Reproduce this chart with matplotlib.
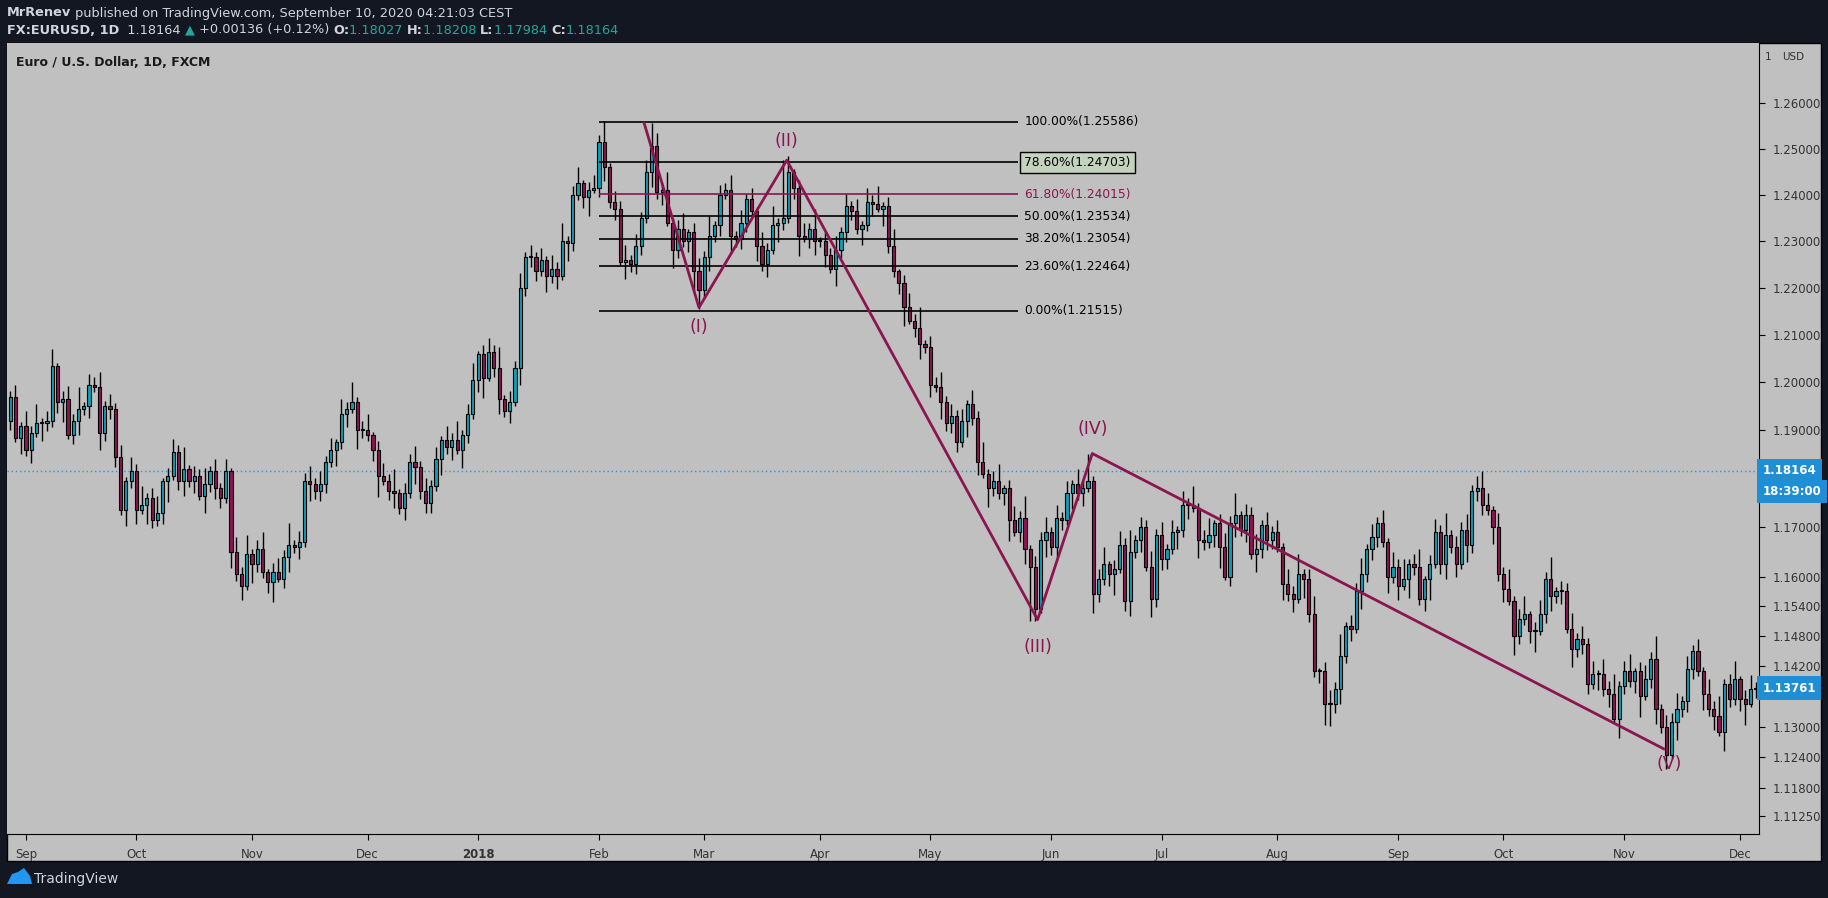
import numpy as np
import pandas as pd
import matplotlib
matplotlib.use("Agg")
import matplotlib.pyplot as plt
from matplotlib.patches import Rectangle, Polygon
from matplotlib.ticker import FixedLocator, FuncFormatter, NullLocator

# ---------------- data ----------------
first_open = 1.1920
closes = [
 1.1970,1.1885,1.1910,
 1.1860,1.1895,1.1915,1.1915,1.1920,1.2035,1.1960,1.1965,1.1890,1.1920,1.1945,1.1950,1.1995,1.1990,1.1895,1.1950,1.1945,1.1845,1.1735,1.1795,1.1815,
 1.1735,1.1745,1.1760,1.1715,1.1730,1.1795,1.1805,1.1855,1.1795,1.1820,1.1795,1.1805,1.1765,1.1790,1.1815,1.1780,1.1760,1.1815,1.1650,1.1605,1.1580,1.1645,
 1.1625,1.1655,1.1610,1.1590,1.1610,1.1595,1.1640,1.1665,1.1660,1.1670,1.1795,1.1790,1.1775,1.1790,1.1835,1.1860,1.1875,1.1935,1.1945,1.1960,1.1900,1.1900,
 1.1890,1.1860,1.1805,1.1795,1.1775,1.1770,1.1740,1.1770,1.1835,1.1825,1.1775,1.1750,1.1785,1.1840,1.1880,1.1865,1.1880,1.1860,1.1890,1.1935,1.2005,
 1.2060,1.2010,1.2065,1.2030,1.1965,1.1940,1.1960,1.2030,1.2200,1.2265,1.2265,1.2235,1.2260,1.2225,1.2240,1.2225,1.2300,1.2295,1.2400,1.2425,1.2395,1.2410,1.2415,
 1.2515,1.2460,1.2385,1.2370,1.2255,1.2260,1.2250,1.2290,1.2350,1.2450,1.2505,1.2405,1.2410,1.2340,1.2280,1.2325,1.2300,1.2320,1.2235,1.2195,
 1.2265,1.2310,1.2335,1.2400,1.2410,1.2310,1.2305,1.2340,1.2390,1.2365,1.2290,1.2250,1.2280,1.2335,1.2340,1.2350,1.2450,1.2415,1.2310,1.2305,1.2325,1.2300,
 1.2300,1.2270,1.2240,1.2280,1.2320,1.2375,1.2365,1.2325,1.2335,1.2385,1.2380,1.2370,1.2375,1.2290,1.2235,1.2210,1.2160,1.2130,1.2115,1.2080,1.2075,
 1.1995,1.1990,1.1960,1.1915,1.1930,1.1875,1.1920,1.1955,1.1925,1.1835,1.1810,1.1780,1.1795,1.1770,1.1780,1.1715,1.1690,1.1720,1.1655,1.1620,1.1535,1.1675,1.1690,
 1.1660,1.1720,1.1715,1.1770,1.1790,1.1770,1.1780,1.1795,1.1565,1.1595,1.1625,1.1605,1.1615,1.1665,1.1550,1.1650,1.1675,1.1700,1.1620,1.1555,1.1685,
 1.1635,1.1655,1.1690,1.1695,1.1745,1.1745,1.1740,1.1675,1.1670,1.1685,1.1710,1.1660,1.1600,1.1710,1.1725,1.1695,1.1725,1.1645,1.1655,1.1705,1.1675,1.1690,
 1.1660,1.1585,1.1565,1.1555,1.1605,1.1595,1.1525,1.1410,1.1410,1.1345,1.1345,1.1375,1.1440,1.1500,1.1495,1.1570,1.1605,1.1655,1.1680,1.1710,1.1670,1.1600,1.1620,
 1.1580,1.1595,1.1625,1.1620,1.1555,1.1595,1.1625,1.1690,1.1625,1.1685,1.1660,1.1625,1.1695,1.1665,1.1775,1.1780,1.1745,1.1735,1.1700,1.1605,
 1.1575,1.1550,1.1480,1.1515,1.1525,1.1490,1.1490,1.1525,1.1595,1.1560,1.1570,1.1570,1.1495,1.1455,1.1475,1.1465,1.1385,1.1405,1.1405,1.1375,1.1365,1.1315,1.1380,
 1.1410,1.1390,1.1410,1.1360,1.1395,1.1435,1.1335,1.1300,1.1245,1.1310,1.1335,1.1350,1.1415,1.1450,1.1410,1.1365,1.1335,1.1320,1.1290,1.1385,1.1355,1.1395,
 1.1355,1.1345,1.1375,1.1375,1.1376,
]
upper_wick_pips = [12, 25, 8, 30, 15, 40, 10, 20, 35, 6, 18, 28, 14, 45, 9, 22, 16, 32, 11, 26]
lower_wick_pips = [20, 10, 33, 14, 27, 8, 38, 16, 12, 24, 42, 7, 19, 30, 13, 25, 9, 36, 17, 21]
extreme_highs = {122: 1.2556, 147: 1.2476, 205: 1.1852, 280: 1.1815}
extreme_lows = {131: 1.2155, 194: 1.1510, 251: 1.1301, 315: 1.1216}

month_labels = ["Sep", "Oct", "Nov", "Dec", "2018", "Feb", "Mar", "Apr", "May", "Jun",
                "Jul", "Aug", "Sep", "Oct", "Nov", "Dec"]
fib_pct = ["100.00%", "78.60%", "61.80%", "50.00%", "38.20%", "23.60%", "0.00%"]
fib_levels = [1.25586, 1.24703, 1.24015, 1.23534, 1.23054, 1.22464, 1.21515]
wave_idx = [120.5, 131.0, 147.7, 195.4, 205.8, 314.7]
wave_price = [1.2559, 1.2158, 1.2475, 1.1513, 1.1852, 1.1255]
wave_names = ["(I)", "(II)", "(III)", "(IV)", "(V)"]
price_ticks = [1.26, 1.25, 1.24, 1.23, 1.22, 1.21, 1.20, 1.19, 1.17, 1.16, 1.154, 1.148,
               1.142, 1.13, 1.124, 1.118, 1.1125]
last_price = 1.18164
last_close_badge = 1.13761

# ---------------- build OHLC ----------------
dates = pd.bdate_range("2017-08-29", periods=len(closes))
n = len(closes)
opens = [first_open] + closes[:-1]
highs, lows = [], []
for i in range(n):
    o, c = opens[i], closes[i]
    h = max(o, c) + upper_wick_pips[i % len(upper_wick_pips)] * 1e-4
    l = min(o, c) - lower_wick_pips[i % len(lower_wick_pips)] * 1e-4
    h = max(h, extreme_highs.get(i, h))
    l = min(l, extreme_lows.get(i, l))
    highs.append(h); lows.append(l)

month_pos = []
prev = None
for i, d in enumerate(dates):
    if d.month != prev:
        if d.day <= 5:
            month_pos.append(i)
        prev = d.month
month_pos = month_pos[:len(month_labels)]

# ---------------- figure ----------------
W, H = 1828, 898
fig = plt.figure(figsize=(W / 100, H / 100), dpi=100)
fig.patch.set_facecolor("#131722")

def fx(px): return px / W
def fy(py): return 1 - py / H

bgbox = Rectangle((fx(7), fy(861)), fx(1821 - 7), (861 - 43) / H,
                  transform=fig.transFigure, facecolor="#c0c0c0",
                  edgecolor="#000000", lw=1.0, zorder=-5)
fig.patches.append(bgbox)

ax = fig.add_axes([fx(7), fy(834), fx(1759 - 7), (834 - 43) / H])
ax.set_zorder(2)
ax.set_facecolor("#c0c0c0")
ax.set_yscale("log")
ax.set_ylim(1.1090, 1.2733)
ax.set_xlim(-0.6, 332.6)

up_c, dn_c = "#0a9fb5", "#8c1550"
bw = 0.6
for i in range(n):
    o, c, h, l = opens[i], closes[i], highs[i], lows[i]
    ax.vlines(i, l, h, color="black", lw=1.0, zorder=2)
    col = up_c if c >= o else dn_c
    bot, top = min(o, c), max(o, c)
    if top - bot < 0.0002:
        top = bot + 0.0002
    ax.add_patch(Rectangle((i - bw / 2, bot), bw, top - bot, facecolor=col,
                           edgecolor="black", lw=0.8, zorder=3))

# fib levels
fib_x0, fib_x1 = 112, 191.7
for p, lv in zip(fib_pct, fib_levels):
    col = "#8c1550" if p == "61.80%" else "black"
    ax.hlines(lv, fib_x0, fib_x1, color=col, lw=1.2, zorder=4)
    kw = dict(fontsize=8.8, color=col, va="center", ha="left", zorder=6)
    if p == "78.60%":
        kw["bbox"] = dict(boxstyle="square,pad=0.35", facecolor="#c3d3bd", edgecolor="black", lw=1)
    ax.text(fib_x1 + 1.2, lv, f"{p}({lv:.5f})", **kw)

# wave lines
wc = "#8c1550"
ax.plot(wave_idx, wave_price, color=wc, lw=2.0, zorder=5, solid_capstyle="butt")
offs = [(0, -0.0042), (0, 0.0042), (0, -0.0055), (0, 0.0050), (0.8, -0.0028)]
for k, name in enumerate(wave_names):
    x = wave_idx[k + 1] + offs[k][0]
    y = wave_price[k + 1] + offs[k][1]
    ax.text(x, y, name, color=wc, fontsize=12.5, ha="center", va="center", zorder=6)

# current price line
ax.axhline(last_price, color="#2196f3", lw=1.0, ls=(0, (1, 2)), zorder=1)

# axes styling
for s in ["top", "left"]:
    ax.spines[s].set_visible(False)
ax.spines["right"].set_color("black")
ax.spines["bottom"].set_color("black")
ax.yaxis.tick_right()
ax.yaxis.set_major_locator(FixedLocator(price_ticks))
ax.yaxis.set_minor_locator(NullLocator())
ax.yaxis.set_major_formatter(FuncFormatter(lambda v, p: f"{v:.5f}"))
ax.tick_params(axis="y", which="major", length=4, pad=6, labelsize=8.5, labelcolor="#333333", color="black")
ax.set_xticks(month_pos)
ax.set_xticklabels(month_labels)
ax.tick_params(axis="x", length=4, pad=6, labelsize=8.5, labelcolor="#333333", color="black")
for lbl, t in zip(ax.get_xticklabels(), month_labels):
    if t == "2018":
        lbl.set_fontweight("bold")

# badges
for val, txt in [(last_price, f"{last_price:.5f}"), (1.1774, "18:39:00"),
                 (last_close_badge, f"{last_close_badge:.5f}")]:
    ax.text(1.002, val, txt, transform=ax.get_yaxis_transform(),
            ha="left", va="center", fontsize=8.5, color="white", fontweight="bold", zorder=10,
            bbox=dict(boxstyle="square,pad=0.45", facecolor="#1e8fd6", edgecolor="none"))
fig.text(fx(1782), fy(57), "USD", fontsize=7.5, color="#333333", va="center", ha="left")
fig.text(fx(1765), fy(57), "1", fontsize=7.5, color="#333333", va="center", ha="left")

# chart title
fig.text(fx(16), fy(62), "Euro / U.S. Dollar, 1D, FXCM", fontsize=9, fontweight="bold",
         color="#1a1a1a", va="center", ha="left")

# header
fig.canvas.draw()
r = fig.canvas.get_renderer()
def chain(x, y, parts):
    for txt, col, bold in parts:
        t = fig.text(fx(x), fy(y), txt, color=col, fontsize=9.3,
                     fontweight="bold" if bold else "normal", va="center", ha="left")
        bb = t.get_window_extent(renderer=r)
        x += bb.width
chain(7, 13, [("MrRenev", "#d1d4dc", True),
              (" published on TradingView.com, September 10, 2020 04:21:03 CEST", "#d1d4dc", False)])
chain(7, 30, [("FX:EURUSD, 1D", "#d1d4dc", True), ("  1.18164 ", "#d1d4dc", False),
              ("\u25B2", "#26a69a", False), (" +0.00136 (+0.12%) ", "#d1d4dc", False),
              ("O:", "#d1d4dc", True), ("1.18027 ", "#26a69a", False),
              ("H:", "#d1d4dc", True), ("1.18208 ", "#26a69a", False),
              ("L:", "#d1d4dc", True), ("1.17984 ", "#26a69a", False),
              ("C:", "#d1d4dc", True), ("1.18164", "#26a69a", False)])

# footer logo
logo = Polygon([[fx(7), fy(884)], [fx(12), fy(874)], [fx(18), fy(872)], [fx(24), fy(868)],
                [fx(30), fy(876)], [fx(32), fy(884)]], closed=True,
               transform=fig.transFigure, facecolor="#2196f3", edgecolor="none")
fig.patches.append(logo)
fig.text(fx(34), fy(879), "TradingView", fontsize=10, color="#d1d4dc", va="center", ha="left")

fig.savefig("out.png", dpi=100, facecolor=fig.get_facecolor())
